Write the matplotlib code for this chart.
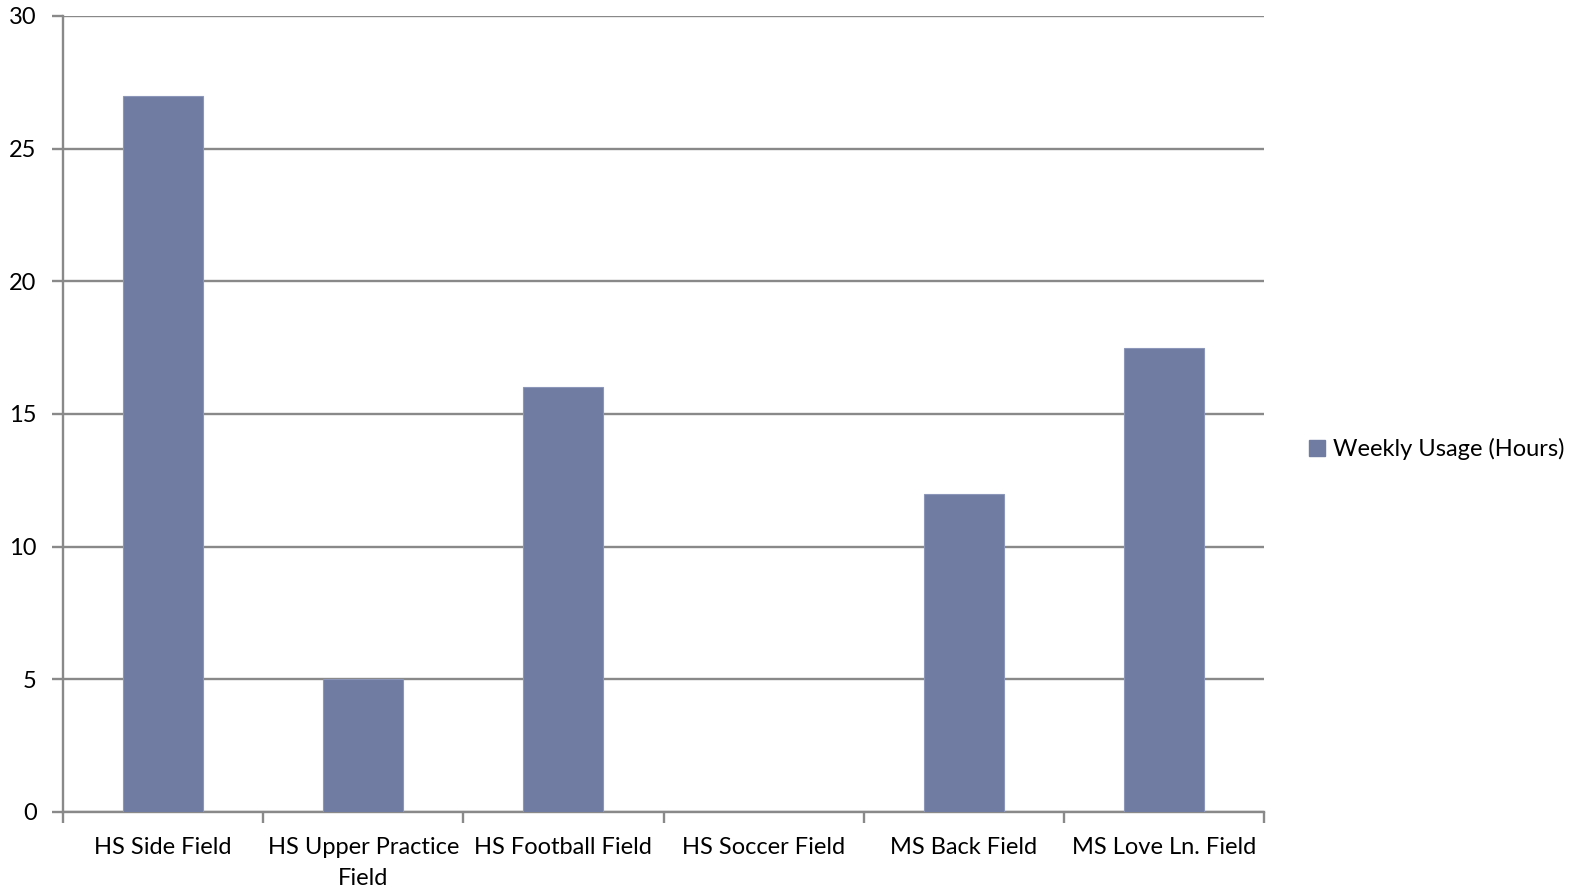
import matplotlib
matplotlib.use("Agg")
import matplotlib.pyplot as plt
from matplotlib.patches import Patch

categories = ["HS Side Field", "HS Upper Practice\nField", "HS Football Field",
              "HS Soccer Field", "MS Back Field", "MS Love Ln. Field"]
values = [27, 5, 16, 0, 12, 17.5]
series_name = "Weekly Usage (Hours)"
yticks = [0, 5, 10, 15, 20, 25, 30]

plt.rcParams['font.family'] = ['Lato', 'DejaVu Sans']

W, H = 1575, 892
fig = plt.figure(figsize=(W / 100, H / 100), dpi=100)
x0, x1 = 63, 1264
y0, y1 = 16, 812
ax = fig.add_axes([x0 / W, 1 - y1 / H, (x1 - x0) / W, (y1 - y0) / H])

bar_color = "#717CA2"
grid_color = "#898989"
fs = 17
pos = list(range(len(categories)))
ax.bar(pos, values, width=0.4, color=bar_color, edgecolor="#8C96B8",
       linewidth=0.8, zorder=3)

ax.set_xlim(-0.5, len(categories) - 0.5)
ax.set_ylim(0, 30)
ax.set_yticks(yticks)
ax.set_yticklabels([str(t) for t in yticks], fontsize=fs)
ax.yaxis.grid(True, color=grid_color, linewidth=1.7, zorder=0)
ax.set_axisbelow(True)

ax.set_xticks(pos)
ax.set_xticklabels(categories, fontsize=fs, linespacing=1.6)
ax.set_xticks([p - 0.5 for p in pos] + [len(categories) - 0.5], minor=True)
ax.tick_params(axis='x', which='major', length=0, pad=18)
ax.tick_params(axis='x', which='minor', length=8, width=1.7, color=grid_color)
ax.tick_params(axis='y', length=8, width=1.7, color=grid_color, pad=11)

for s in ['top', 'right']:
    ax.spines[s].set_visible(False)
for s in ['left', 'bottom']:
    ax.spines[s].set_color(grid_color)
    ax.spines[s].set_linewidth(1.7)

handle = Patch(facecolor=bar_color, edgecolor=bar_color)
fig.legend([handle], [series_name], loc='center left',
           bbox_to_anchor=(1300 / W, 1 - 449 / H), frameon=False,
           fontsize=fs, handlelength=0.65, handleheight=0.65,
           handletextpad=0.35, borderaxespad=0)

fig.savefig("out.png", dpi=100, facecolor="white")
